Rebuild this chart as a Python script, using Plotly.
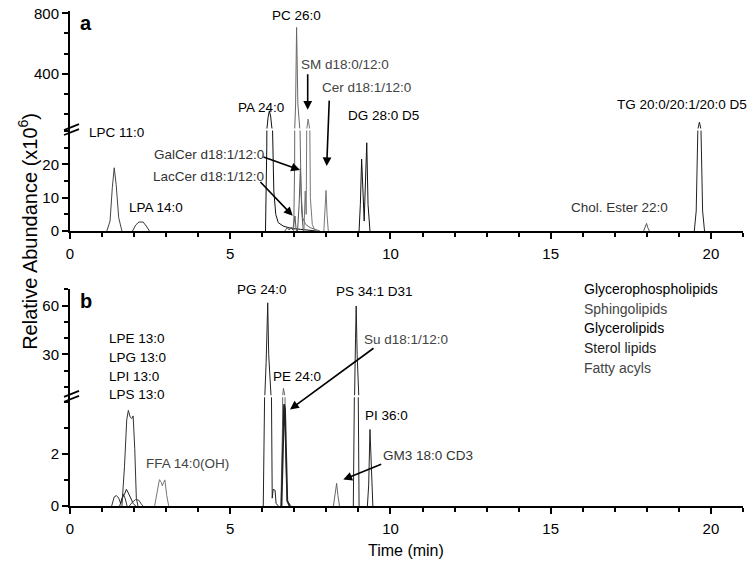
import plotly.graph_objects as go

# ---------------- Panel a data (time min, abundance x10^6) ----------------
a_LPC_t = [1.15, 1.25, 1.32, 1.38, 1.44, 1.52, 1.62]
a_LPC_v = [0, 3, 13, 19, 14, 4, 0]
a_LPA_t = [1.95, 2.05, 2.15, 2.28, 2.38, 2.48]
a_LPA_v = [0, 1.8, 2.7, 2.7, 1.5, 0]
a_PA_t = [6.10, 6.14, 6.18, 6.22, 6.26, 6.30, 6.36, 6.42, 6.50, 6.65, 6.90, 7.20, 7.50, 7.70]
a_PA_v = [0, 25, 110, 154, 120, 40, 12, 5, 2.5, 1.5, 0.8, 0.5, 0.3, 0]
a_PC_t = [6.98, 7.01, 7.04, 7.07, 7.11, 7.17, 7.21, 7.26, 7.35, 7.50, 7.80]
a_PC_v = [0, 20, 200, 706, 200, 35, 12, 4, 2, 1, 0]
a_GalCer_t = [7.10, 7.15, 7.19, 7.23, 7.28]
a_GalCer_v = [0, 8, 19, 6, 0]
a_LacCer_t = [6.70, 6.78, 6.84, 6.90, 6.95, 6.99, 7.02, 7.05, 7.08]
a_LacCer_v = [0, 1.0, 0.3, 1.2, 0.3, 2.5, 4.5, 1.0, 0]
a_SM_t = [7.30, 7.34, 7.37, 7.40, 7.43, 7.46, 7.50, 7.56, 7.65]
a_SM_v = [0, 12, 5, 60, 100, 60, 10, 2, 0]
a_Cer_t = [7.92, 7.96, 7.99, 8.02, 8.06]
a_Cer_v = [0, 6, 12.2, 5, 0]
a_DG_t = [9.02, 9.06, 9.10, 9.15, 9.18, 9.22, 9.26, 9.30, 9.36]
a_DG_v = [0, 8, 21.6, 6, 3, 15, 26.5, 8, 0]
a_Chol_t = [17.90, 17.95, 17.99, 18.03, 18.08]
a_Chol_v = [0, 1.0, 2.3, 1.0, 0]
a_TG_t = [19.48, 19.54, 19.59, 19.64, 19.69, 19.74, 19.80]
a_TG_v = [0, 6, 30, 80, 30, 6, 0]

# ---------------- Panel b data ----------------
b_LPE_t = [1.62, 1.70, 1.77, 1.82, 1.88, 1.93, 1.97, 2.02, 2.07, 2.12]
b_LPE_v = [0, 1.5, 3.3, 3.66, 3.4, 3.35, 3.45, 2.2, 0.3, 0]
b_LPG_t = [1.55, 1.63, 1.70, 1.76, 1.82, 1.90, 1.97, 2.05]
b_LPG_v = [0, 0.3, 0.45, 0.64, 0.5, 0.3, 0.1, 0]
b_LPI_t = [1.30, 1.38, 1.45, 1.52, 1.58, 1.66, 1.72, 1.78]
b_LPI_v = [0, 0.35, 0.4, 0.3, 0.1, 0.45, 0.3, 0]
b_LPS_t = [1.85, 1.95, 2.05, 2.15, 2.22, 2.28]
b_LPS_v = [0, 0.15, 0.25, 0.22, 0.08, 0]
b_FFA_t = [2.64, 2.72, 2.79, 2.85, 2.88, 2.92, 2.96, 3.02, 3.08]
b_FFA_v = [0, 0.6, 1.01, 0.9, 0.77, 0.9, 1.0, 0.4, 0]
b_PG_t = [6.03, 6.08, 6.12, 6.17, 6.20, 6.24, 6.28, 6.31, 6.34, 6.40, 6.43, 6.50]
b_PG_v = [0, 5, 25, 61.8, 30, 12, 2, 0.3, 0.64, 0.6, 0.1, 0]
b_PE_t = [6.58, 6.63, 6.66, 6.69, 6.73, 6.78, 6.90]
b_PE_v = [0, 3, 9.1, 5, 2, 0.2, 0]
b_Su_t = [6.60, 6.65, 6.68, 6.71, 6.74, 6.78, 6.85]
b_Su_v = [0, 2.5, 3.9, 3.7, 1.5, 0.2, 0]
b_GM3_t = [8.22, 8.27, 8.32, 8.36, 8.41]
b_GM3_v = [0, 0.4, 0.87, 0.4, 0]
b_PS_t = [8.84, 8.88, 8.91, 8.93, 8.96, 8.99, 9.02]
b_PS_v = [0, 5, 40, 59.8, 30, 5, 0]
b_PI_t = [9.28, 9.32, 9.36, 9.40, 9.45]
b_PI_v = [0, 0.8, 2.93, 1.2, 0]

legend_labels = ["Glycerophospholipids", "Sphingolipids", "Glycerolipids", "Sterol lipids", "Fatty acyls"]
legend_colors = ["#000000", "#444444", "#000000", "#222222", "#444444"]

FONT = "Arial, 'Liberation Sans', sans-serif"
W, H = 750, 564
ML, MR, MT, MB = 70, 7, 5, 58
PW, PH = W - ML - MR, H - MT - MB


def px(x):
    return (x - ML) / PW


def py(y):
    return (H - MB - y) / PH


fig = go.Figure()


def add(t, v, panel, color, width=1.0):
    axes = [("x", "y"), ("x", "y2")] if panel == "a" else [("x2", "y3"), ("x2", "y4")]
    for xa, ya in axes:
        fig.add_trace(go.Scatter(x=t, y=v, mode="lines", xaxis=xa, yaxis=ya,
                                 line=dict(color=color, width=width),
                                 showlegend=False, hoverinfo="skip"))


add(a_LPC_t, a_LPC_v, "a", "#444444")
add(a_LPA_t, a_LPA_v, "a", "#333333")
add(a_PA_t, a_PA_v, "a", "#111111")
add(a_LacCer_t, a_LacCer_v, "a", "#555555")
add(a_GalCer_t, a_GalCer_v, "a", "#555555")
add(a_PC_t, a_PC_v, "a", "#666666")
add(a_SM_t, a_SM_v, "a", "#777777")
add(a_Cer_t, a_Cer_v, "a", "#777777")
add(a_DG_t, a_DG_v, "a", "#111111")
add(a_Chol_t, a_Chol_v, "a", "#555555")
add(a_TG_t, a_TG_v, "a", "#222222")

add(b_LPI_t, b_LPI_v, "b", "#333333")
add(b_LPG_t, b_LPG_v, "b", "#222222")
add(b_LPS_t, b_LPS_v, "b", "#444444")
add(b_LPE_t, b_LPE_v, "b", "#333333")
add(b_FFA_t, b_FFA_v, "b", "#777777")
add(b_PG_t, b_PG_v, "b", "#222222")
add(b_PE_t, b_PE_v, "b", "#666666")
add(b_Su_t, b_Su_v, "b", "#222222", 1.8)
add(b_GM3_t, b_GM3_v, "b", "#666666")
add(b_PS_t, b_PS_v, "b", "#222222")
add(b_PI_t, b_PI_v, "b", "#222222")

# break positions (pixels)
A_BRK, B_BRK = 125, 395
A_LOW_TOP = 30.47
B_LOW_TOP = 4.2

axis_common = dict(showline=True, linewidth=2, linecolor="black", ticks="outside",
                   ticklen=6, tickwidth=1.5, tickcolor="black", showgrid=False,
                   zeroline=False, ticklabeloverflow="allow",
                   tickfont=dict(family=FONT, size=15, color="black"))
xax = dict(axis_common, range=[0, 21], tickvals=[0, 5, 10, 15, 20], ticklabelstandoff=2,
           minor=dict(dtick=1, tick0=0, ticks="outside", ticklen=4, tickwidth=1.5, tickcolor="black"))

fig.update_layout(
    width=W, height=H, margin=dict(l=ML, r=MR, t=MT, b=MB),
    paper_bgcolor="white", plot_bgcolor="white", showlegend=False,
    font=dict(family=FONT, color="black"),
    xaxis=dict(xax, domain=[0, 1], anchor="y"),
    xaxis2=dict(xax, domain=[0, 1], anchor="y3"),
    yaxis=dict(axis_common, domain=[py(227.7), py(A_BRK)], range=[0, A_LOW_TOP], anchor="x",
               tickvals=[0, 10, 20],
               minor=dict(dtick=5, tick0=0, ticks="outside", ticklen=4, tickwidth=1.5, tickcolor="black")),
    yaxis2=dict(axis_common, domain=[py(A_BRK), 1], range=[A_LOW_TOP, 815], anchor="x",
                tickvals=[400, 800],
                minor=dict(dtick=400 / 3, tick0=0, ticks="outside", ticklen=4, tickwidth=1.5, tickcolor="black")),
    yaxis3=dict(axis_common, domain=[0, py(B_BRK)], range=[0, B_LOW_TOP], anchor="x2",
                tickvals=[0, 2],
                minor=dict(dtick=1, tick0=0, ticks="outside", ticklen=4, tickwidth=1.5, tickcolor="black")),
    yaxis4=dict(axis_common, domain=[py(B_BRK), py(286.7)], range=[B_LOW_TOP, 70.1], anchor="x2",
                tickvals=[30, 60],
                minor=dict(dtick=10, tick0=0, ticks="outside", ticklen=4, tickwidth=1.5, tickcolor="black")),
)

shapes = []
# white gaps through peaks at the breaks
for yb in (A_BRK, B_BRK):
    shapes.append(dict(type="line", xref="paper", yref="paper", x0=px(72), x1=px(743),
                       y0=py(yb), y1=py(yb), line=dict(color="white", width=2), layer="above"))
    # axis break marks //
    for dy in (-2.5, 2.5):
        shapes.append(dict(type="line", xref="paper", yref="paper",
                           x0=px(64), y0=py(yb + dy + 3), x1=px(79), y1=py(yb + dy - 3),
                           line=dict(color="black", width=1.8), layer="above"))
fig.update_layout(shapes=shapes)

ann = []


def text(s, x, y, size=13.5, color="black", bold=False, xanchor="center"):
    if bold:
        s = "<b>" + s + "</b>"
    ann.append(dict(text=s, x=px(x), y=py(y), xref="paper", yref="paper", showarrow=False,
                    xanchor=xanchor, yanchor="middle",
                    font=dict(family=FONT, size=size, color=color)))


def arrow(x_tip, y_tip, x_tail, y_tail):
    ann.append(dict(text="", x=px(x_tip), y=py(y_tip), xref="paper", yref="paper",
                    ax=x_tail - x_tip, ay=y_tail - y_tip, axref="pixel", ayref="pixel",
                    showarrow=True, arrowhead=2, arrowsize=1.1, arrowwidth=1.6, arrowcolor="black"))


# panel labels
text("a", 86, 17, size=20, bold=True)
text("b", 86, 299, size=20, bold=True)

# panel a labels
text("LPC 11:0", 116.5, 128)
text("LPA 14:0", 156, 204)
text("GalCer d18:1/12:0", 151.5, 150, color="#333333", xanchor="left")
text("LacCer d18:1/12:0", 150.5, 172.5, color="#333333", xanchor="left")
text("PA 24:0", 261, 102.5)
text("PC 26:0", 296.5, 10)
text("SM d18:0/12:0", 345, 59.5, color="#444444")
text("Cer d18:1/12:0", 366, 82, color="#444444")
text("DG 28:0 D5", 383, 111)
text("Chol. Ester 22:0", 619.5, 204, color="#333333")
text("TG 20:0/20:1/20:0 D5", 749, 99.5, xanchor="right")
arrow(307.7, 105, 307.7, 68)
arrow(326.7, 162, 329.3, 95)
arrow(300, 166, 262, 152.5)
arrow(292.7, 212.3, 259, 177)

# panel b labels
for i, s in enumerate(["LPE 13:0", "LPG 13:0", "LPI 13:0", "LPS 13:0"]):
    text(s, 107.3, 336.7 + i * 18.9, xanchor="left")
text("FFA 14:0(OH)", 187.5, 462.5, color="#444444")
text("PG 24:0", 262, 286.7)
text("PS 34:1 D31", 374, 289.3)
text("Su d18:1/12:0", 406, 337.3, color="#444444")
text("PE 24:0", 297, 375)
text("PI 36:0", 386, 414)
text("GM3 18:0 CD3", 427.5, 455, color="#333333")
arrow(290, 408.3, 375, 346)
arrow(343.3, 479.3, 382.7, 463.3)

# class list
for i, (s, c) in enumerate(zip(legend_labels, legend_colors)):
    text(s, 581.7, 286.7 + i * 19.8, size=14, color=c, xanchor="left")

# axis titles
ann.append(dict(text="Time (min)", x=px(406), y=py(551), xref="paper", yref="paper",
                yanchor="middle", showarrow=False, font=dict(family=FONT, size=16, color="black")))
ann.append(dict(text="Relative Abundance (x10<sup>6</sup>)", x=px(13), y=py(228), xref="paper",
                yref="paper", showarrow=False, textangle=-90,
                font=dict(family=FONT, size=20, color="black")))

fig.update_layout(annotations=ann)
fig.write_html("out.html", config={"displayModeBar": False},
               post_script="document.body.style.margin='0px';")
